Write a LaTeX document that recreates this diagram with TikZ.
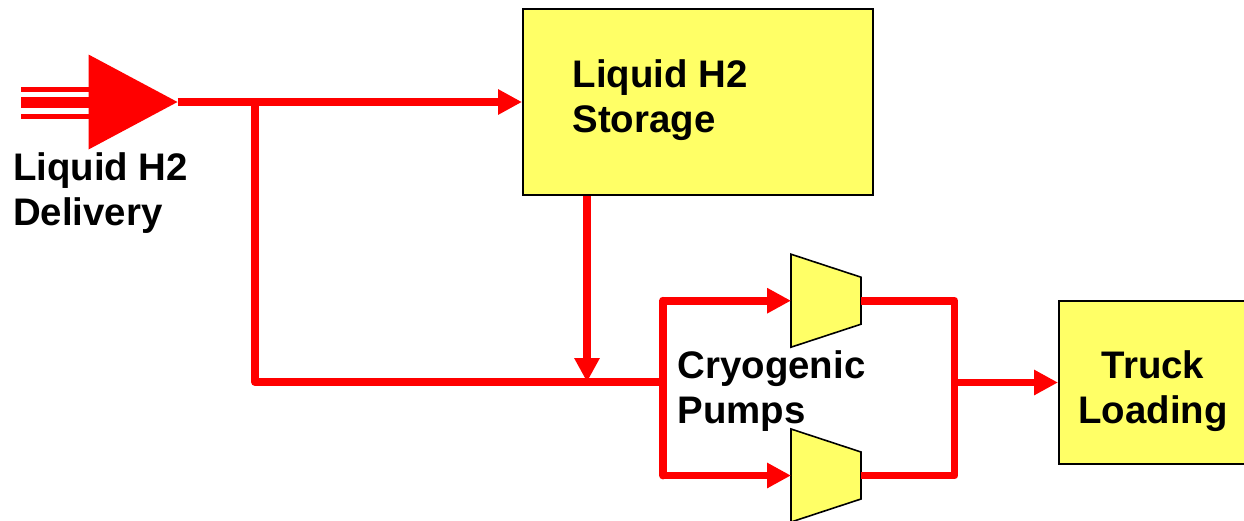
\documentclass[tikz,border=0pt]{standalone}
\usepackage{fontspec}
\setmainfont{Liberation Sans}
\usetikzlibrary{arrows.meta,shapes.geometric}
\definecolor{boxyellow}{HTML}{FFFF66}

\tikzset{
    label text/.style={font=\fontsize{38.4}{45}\selectfont\bfseries, align=left},
    unit box/.style={draw=black, line width=2pt, fill=boxyellow, inner sep=0pt},
    pump/.style={inner sep=0pt, outer sep=0pt, minimum width=70pt, minimum height=93pt},
    pump wall/.style={draw=black, line width=1.6pt, line join=miter, fill=boxyellow},
    pipe/.style={draw=red, line width=7.8pt, line join=round},
    flow/.style={pipe, -{Triangle[length=24pt,width=24pt]}}
}

\begin{document}
\begin{tikzpicture}[x=1pt, y=-1pt]
\clip (0,0) rectangle (1244,520);
% units
\node[unit box, minimum width=350pt, minimum height=186pt] (storage) at (698,102) {};
\node[unit box, minimum width=191pt, minimum height=163pt] (truck) at (1154.5,382.5) {};
\node[pump] (pump1) at (826,300.7) {};
\node[pump] (pump2) at (826,475.5) {};
\foreach \p in {pump1,pump2}
    \draw[pump wall] (\p.north west) -- ([yshift=-23pt]\p.north east) -- ([yshift=23pt]\p.south east) -- (\p.south west) -- cycle;
\node[isosceles triangle, isosceles triangle stretches=true, isosceles triangle apex angle=60, fill=red,
    inner sep=0pt, outer sep=0pt, minimum width=95pt, minimum height=89pt, anchor=west] (delivery) at (88.5,102) {};

% labels
\node[label text] (storagelabel) at (660,100) {Liquid H2\\Storage};
\node[label text] (deliverylabel) at (100.5,193.5) {Liquid H2\\Delivery};
\node[label text] (pumpslabel) at (771.5,391) {Cryogenic\\Pumps};
\node[label text, align=center] (trucklabel) at (1153,391.5) {Truck\\Loading};

% junctions
\coordinate (feedtop) at (21,89.2);
\coordinate (feedmid) at (21,102.8);
\coordinate (feedlow) at (21,116);
\coordinate (tee) at (255,102);
\coordinate (corner) at (255,382);
\coordinate (drop) at (587,382);
\coordinate (splitin) at (663,382);
\coordinate (splitup) at (663,300.7);
\coordinate (splitdown) at (663,475.5);
\coordinate (joinup) at (954.5,300.7);
\coordinate (joindown) at (954.5,475.5);
\coordinate (joinout) at (954.5,382.5);

% delivery stubs
\draw[draw=red, line width=5pt] (feedtop) -- (feedtop -| delivery.west);
\draw[draw=red, line width=11pt] (feedmid) -- (feedmid -| delivery.west);
\draw[draw=red, line width=5pt] (feedlow) -- (feedlow -| delivery.west);

% pipes
\draw[flow] (delivery.east) -- (storage.west);
\draw[pipe] (tee) -- (corner) -- (splitin);
\draw[flow] (storage.south -| drop) -- (drop);
\draw[pipe, line cap=round] (splitup) -- (splitdown);
\draw[flow] (splitup) -- (pump1.west);
\draw[flow] (splitdown) -- (pump2.west);
\draw[pipe] (pump1.east) -- (joinup) -- (joindown) -- (pump2.east);
\draw[flow] (joinout) -- (truck.west);
\end{tikzpicture}
\end{document}
